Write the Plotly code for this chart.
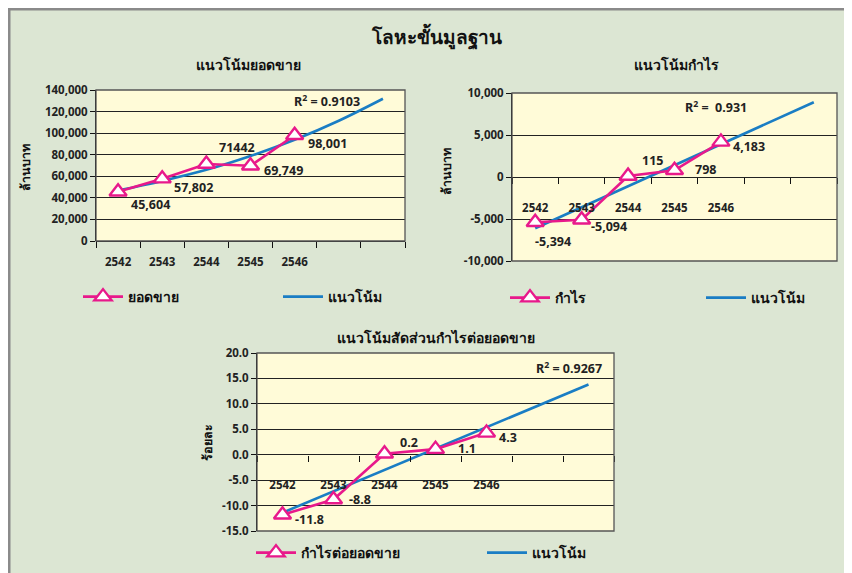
import plotly.graph_objects as go

# ---------------- data ----------------
years = ["2542", "2543", "2544", "2545", "2546"]
xpos = [1, 2, 3, 4, 5]
trend_x_full = [1, 2, 3, 4, 5, 6, 7]
trend_x_ends = [1, 7]

sales = [45604, 57802, 71442, 69749, 98001]
sales_labels = ["45,604", "57,802", "71442", "69,749", "98,001"]
sales_trend = [46800, 55700, 66000, 78800, 93800, 111500, 131900]

profit = [-5394, -5094, 115, 798, 4183]
profit_labels = ["-5,394", "-5,094", "115", "798", "4,183"]
profit_trend = [-6100, 8900]

ratio = [-11.8, -8.8, 0.2, 1.1, 4.3]
ratio_labels = ["-11.8", "-8.8", "0.2", "1.1", "4.3"]
ratio_trend = [-11.4, 13.8]

y1_ticks = [0, 20000, 40000, 60000, 80000, 100000, 120000, 140000]
y1_text = ["0", "20,000", "40,000", "60,000", "80,000", "100,000", "120,000", "140,000"]
y2_ticks = [-10000, -5000, 0, 5000, 10000]
y2_text = ["-10,000", "-5,000", "0", "5,000", "10,000"]
y3_ticks = [-15, -10, -5, 0, 5, 10, 15, 20]
y3_text = ["-15.0", "-10.0", "-5.0", "0.0", "5.0", "10.0", "15.0", "20.0"]

r2_texts = ["R<sup>2</sup> = 0.9103", "R<sup>2</sup> =  0.931", "R<sup>2</sup> = 0.9267"]

# ---------------- style ----------------
OFF = 8                      # page body margin of the viewer
W, H = 852 - OFF, 573 - OFF
PINK = "#e8198b"
BLUE = "#1a7dc4"
BG = "#dce6d3"
PLOTBG = "#fffbd8"
FONT = "Noto Sans, DejaVu Sans, sans-serif"
TICKFONT = dict(family=FONT, size=11.5, color="#222", weight="bold")

def px_x(p):
    return (p - OFF) / W

def px_y(p):
    return 1 - (p - OFF) / H

dom = {
    1: dict(x=[px_x(96), px_x(405)], y=[px_y(241), px_y(90)]),
    2: dict(x=[px_x(512), px_x(837)], y=[px_y(261), px_y(93)]),
    3: dict(x=[px_x(257), px_x(614)], y=[px_y(531), px_y(353)]),
}
yr = {1: [0, 140000], 2: [-10000, 10000], 3: [-15, 20]}

# legend anchor positions (pixels): data series, trend
legpos = {1: ((78, 297), (278, 297)),
          2: ((505, 298), (701, 298)),
          3: ((251, 553), (482, 553))}

fig = go.Figure()

series = [
    (1, sales, sales_trend, trend_x_full, "ยอดขาย", "spline", sales_labels),
    (2, profit, profit_trend, trend_x_ends, "กำไร", "linear", profit_labels),
    (3, ratio, ratio_trend, trend_x_ends, "กำไรต่อยอดขาย", "linear", ratio_labels),
]

for i, vals, tr, trx, name, shape, labs in series:
    ax = "" if i == 1 else str(i)
    lg_a = "legend" if i == 1 else f"legend{2 * i - 1}"
    lg_b = f"legend{2 * i}"
    fig.add_trace(go.Scatter(
        x=trx, y=tr, mode="lines", name="แนวโน้ม",
        line=dict(color=BLUE, width=2.6, shape=shape),
        xaxis="x" + ax, yaxis="y" + ax, legend=lg_b,
        hoverinfo="skip"))
    fig.add_trace(go.Scatter(
        x=xpos, y=vals, mode="lines+markers", name=name,
        line=dict(color=PINK, width=2.6),
        marker=dict(symbol="triangle-up", size=15, color="white",
                    line=dict(color=PINK, width=2.4)),
        xaxis="x" + ax, yaxis="y" + ax, legend=lg_a))

# data labels offsets (pixels)
offs = {
    1: [(32, 13), (31, 9), (31, -16), (33, 5), (33, 8)],
    2: [(18, 19), (27, 7), (24, -16), (31, -1), (28, 5)],
    3: [(27, 5), (26, 0), (24, -11), (31, -1), (21, 5)],
}
annotations = []
for i, vals, tr, trx, name, shape, labs in series:
    ax = "" if i == 1 else str(i)
    for k, (xv, yv, t) in enumerate(zip(xpos, vals, labs)):
        dx, dy = offs[i][k]
        annotations.append(dict(
            x=xv, y=yv, xref="x" + ax, yref="y" + ax, text=t, showarrow=False,
            xshift=dx, yshift=-dy, xanchor="center", yanchor="middle",
            font=dict(family=FONT, size=12.5, color="#222", weight="bold")))

# R^2 labels
r2pos = [(327, 101), (716, 107), (569, 368)]
for (cx, cy), t in zip(r2pos, r2_texts):
    annotations.append(dict(x=px_x(cx), y=px_y(cy), xref="paper", yref="paper",
                            xanchor="center", yanchor="middle",
                            text=t, showarrow=False,
                            font=dict(family=FONT, size=12.5, color="#222", weight="bold")))

# titles
for (cx, cy), t, s in [((248, 65), "แนวโน้มยอดขาย", 14),
                       ((676, 64), "แนวโน้มกำไร", 14),
                       ((436, 337), "แนวโน้มสัดส่วนกำไรต่อยอดขาย", 14),
                       ((437, 37), "โลหะขั้นมูลฐาน", 19)]:
    annotations.append(dict(x=px_x(cx), y=px_y(cy), xref="paper", yref="paper",
                            xanchor="center", yanchor="middle",
                            text="<b>" + t + "</b>", showarrow=False,
                            font=dict(family=FONT, size=s, color="#111")))

# y titles
for (cx, cy), t in [((25, 168), "ล้านบาท"), ((446, 172), "ล้านบาท"), ((207, 443), "ร้อยละ")]:
    annotations.append(dict(x=px_x(cx), y=px_y(cy), xref="paper", yref="paper",
                            xanchor="center", yanchor="middle",
                            text="<b>" + t + "</b>", showarrow=False, textangle=-90,
                            font=dict(family=FONT, size=12.5, color="#111")))

shapes = [
    dict(type="line", xref="paper", yref="paper", x0=0, x1=1, y0=0.998, y1=0.998,
         line=dict(color="#8a8a8a", width=2.5)),
    dict(type="line", xref="paper", yref="paper", x0=0.0015, x1=0.0015, y0=0, y1=1,
         line=dict(color="#8a8a8a", width=2.5)),
]
for i in (1, 2, 3):
    ax = "" if i == 1 else str(i)
    shapes.append(dict(type="rect", xref=f"x{ax} domain", yref=f"y{ax} domain",
                       x0=0, x1=1, y0=0, y1=1, line=dict(color="#555", width=1.3)))

layout = dict(
    width=W, height=H, margin=dict(l=0, r=0, t=0, b=0, autoexpand=False),
    template="none", paper_bgcolor=BG, plot_bgcolor=PLOTBG,
    font=dict(family=FONT, color="#111"),
    annotations=annotations, shapes=shapes, showlegend=True,
)

ytick = {1: (y1_ticks, y1_text), 2: (y2_ticks, y2_text), 3: (y3_ticks, y3_text)}
for i in (1, 2, 3):
    ax = "" if i == 1 else str(i)
    d = dom[i]
    y0, y1 = yr[i]
    if i == 1:
        xpos_paper = d["y"][0]
        standoff = 10
    else:
        xpos_paper = d["y"][0] + (0 - y0) / (y1 - y0) * (d["y"][1] - d["y"][0])
        standoff = 22
    layout["xaxis" + ax] = dict(
        domain=d["x"], range=[0.5, 7.5], anchor="free", position=xpos_paper,
        tickmode="array", tickvals=xpos, ticktext=years, ticks="",
        ticklabelstandoff=standoff,
        minor=dict(ticks="outside", tick0=0.5, dtick=1, ticklen=6, tickcolor="#111",
                   tickwidth=1.2, showgrid=False),
        showgrid=False, zeroline=False, showline=(i == 1), linecolor="#111",
        tickfont=TICKFONT, automargin=False, fixedrange=True)
    layout["yaxis" + ax] = dict(
        domain=d["y"], range=yr[i], anchor="x" + ax,
        tickmode="array", tickvals=ytick[i][0], ticktext=ytick[i][1],
        ticks="outside", ticklen=5, tickcolor="#111", showline=True, linecolor="#111",
        showgrid=True, gridcolor="#222", gridwidth=1, zeroline=False,
        tickfont=TICKFONT, automargin=False, fixedrange=True)

leg_common = dict(orientation="h", xanchor="left", yanchor="middle",
                  bgcolor="rgba(0,0,0,0)",
                  font=dict(family=FONT, size=14, color="#111", weight="bold"),
                  itemwidth=40)
for i in (1, 2, 3):
    (ax_, ay_), (bx_, by_) = legpos[i]
    na = "legend" if i == 1 else f"legend{2 * i - 1}"
    nb = f"legend{2 * i}"
    layout[na] = dict(leg_common, x=px_x(ax_), y=px_y(ay_))
    layout[nb] = dict(leg_common, x=px_x(bx_), y=px_y(by_))

fig.update_layout(**layout)
fig.write_html("out.html", config={"displayModeBar": False})
